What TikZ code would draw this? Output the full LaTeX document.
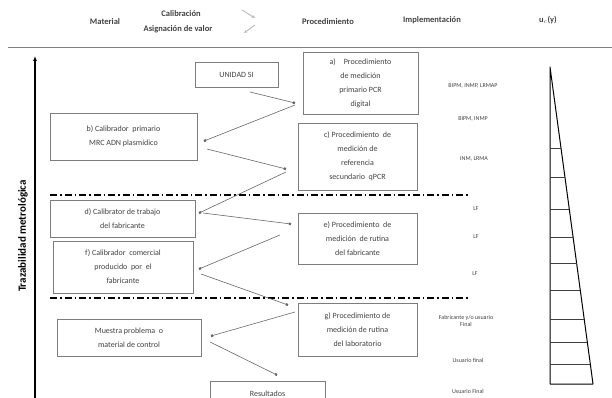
\documentclass[tikz,border=0pt]{standalone}
\usepackage{fontspec}
\setmainfont{Carlito}
\usepackage{tikz}
\usetikzlibrary{arrows.meta}
\definecolor{cajagris}{RGB}{125,125,125}
\definecolor{textogris}{RGB}{65,65,65}

\begin{document}
\begin{tikzpicture}[x=1pt,y=-1pt,
  caja/.style={draw=cajagris,line width=0.7pt,text=textogris,align=center,inner sep=0pt,font=\fontsize{8}{14}\selectfont},
  cabeza/.style={text=textogris,align=center,font=\fontsize{8.5}{11}\bfseries\selectfont},
  impl/.style={text=textogris,align=center,font=\fontsize{6}{7.5}\selectfont},
  enlace/.style={draw=gray!80!black,line width=0.6pt,-{Square[length=2.2pt,width=2.2pt]}},
  nivel/.style={line width=1.3pt,dash pattern=on 7pt off 3pt on 1.5pt off 3pt}]

\useasboundingbox (0,0) rectangle (612,398);

% encabezado
\node[cabeza] (mat) at (105,22) {Material};
\node[cabeza] (cal) at (181,14) {Calibración};
\node[cabeza] (asig) at (178,29) {Asignación de valor};
\node[cabeza] (proc) at (328,22) {Procedimiento};
\node[cabeza] (imp) at (432,20) {Implementación};
\node[cabeza] (unc) at (548,20) {u$_c$(y)};
\coordinate (h1) at (242,10);
\coordinate (h2) at (255,18);
\coordinate (h3) at (255,25);
\coordinate (h4) at (244,33);
\draw[gray!55,line width=0.9pt,-{Stealth[length=3.5pt,width=3pt]}] (h1)--(h2);
\draw[gray!55,line width=0.9pt,-{Stealth[length=3.5pt,width=3pt]}] (h3)--(h4);
\coordinate (l1) at (8,47);
\coordinate (l2) at (612,47);
\draw[gray,line width=0.7pt,double,double distance=1pt] (l1)--(l2);

% eje de trazabilidad
\coordinate (e1) at (35,398);
\coordinate (e2) at (35,56);
\draw[line width=1.5pt,-{Latex[length=5pt,width=4pt]}] (e1)--(e2);
\node[rotate=90,font=\fontsize{11}{13}\bfseries\selectfont] (traz) at (23,236) {Trazabilidad metrológica};

% niveles
\coordinate (n1a) at (50,195);
\coordinate (n1b) at (468,195);
\coordinate (n2a) at (50,298);
\coordinate (n2b) at (468,298);
\draw[nivel] (n1a)--(n1b);
\draw[nivel] (n2a)--(n2b);

% cajas
\node[caja,minimum width=83pt,minimum height=25pt] (unidad) at (236.5,74.5) {UNIDAD SI};
\node[caja,minimum width=115pt,minimum height=62pt] (a) at (360.5,83) {a)\quad Procedimiento\\de medición\\primario PCR\\digital};
\node[caja,minimum width=147pt,minimum height=47pt] (b) at (123.5,136.5) {b) Calibrador\ \ primario\\MRC\ ADN plasmídico};
\node[caja,minimum width=119pt,minimum height=67pt] (c) at (357.5,156.5) {c) Procedimiento\ \ de\\medición\ de\\referencia\\secundario\ \ qPCR};
\node[caja,minimum width=145pt,minimum height=37pt] (d) at (122.5,218.5) {d) Calibrator de trabajo\\del fabricante};
\node[caja,minimum width=140pt,minimum height=52pt] (f) at (123,267) {f) Calibrador\ \ comercial\\producido\ \ por\ \ el\\fabricante};
\node[caja,minimum width=119pt,minimum height=51pt] (e) at (357.5,238.5) {e) Procedimiento\ \ de\\medición\ \ de rutina\\del fabricante};
\node[caja,minimum width=119pt,minimum height=53pt] (g) at (357.5,329.5) {g) Procedimiento de\\medición de rutina\\del laboratorio};
\node[caja,minimum width=144pt,minimum height=37pt] (muestra) at (129,337.5) {Muestra problema\ \ o\\material de control};
\node[caja,minimum width=115pt,minimum height=25pt] (res) at (267.5,393.5) {Resultados};

% implementacion
\node[impl] (i1) at (473,86) {BIPM, INMP, LRMAP};
\node[impl] (i2) at (473,119) {BIPM, INMP};
\node[impl] (i3) at (474,159) {INM, LRMA};
\node[impl] (i4) at (476,209) {LF};
\node[impl] (i5) at (476,237) {LF};
\node[impl] (i6) at (475,274) {LF};
\node[impl] (i7) at (466,321) {Fabricante y/o usuario\\Final};
\node[impl] (i8) at (468,360) {Usuario final};
\node[impl] (i9) at (468,391) {Usuario Final};

% flechas de calibracion
\foreach \n/\xa/\ya/\xb/\yb in {1/250/92/295/103,2/295/105/204/141,3/207/149/286/169,
  4/286/172/199/213,5/203/213/291/224,6/280/235/199/269,7/201/274/288/305,
  8/295/312/211/336,9/210/342/277/375}
{
\coordinate (s\n) at (\xa,\ya);
\coordinate (t\n) at (\xb,\yb);
}
\foreach \n in {1,...,9}
{
\draw[enlace] (s\n)--(t\n);
}

% incertidumbre
\coordinate (v0) at (550,67);
\coordinate (v1) at (550,384);
\coordinate (v2) at (593,384);
\draw[line width=1pt,line join=round] (v0)--(v1)--(v2)--cycle;
\foreach \t in {148,177,209,237,263,290,319,342,364}
{
\draw[line width=0.6pt,black!75] (550,\t)--({550+43*(\t-67)/317},\t);
}
\end{tikzpicture}
\end{document}
